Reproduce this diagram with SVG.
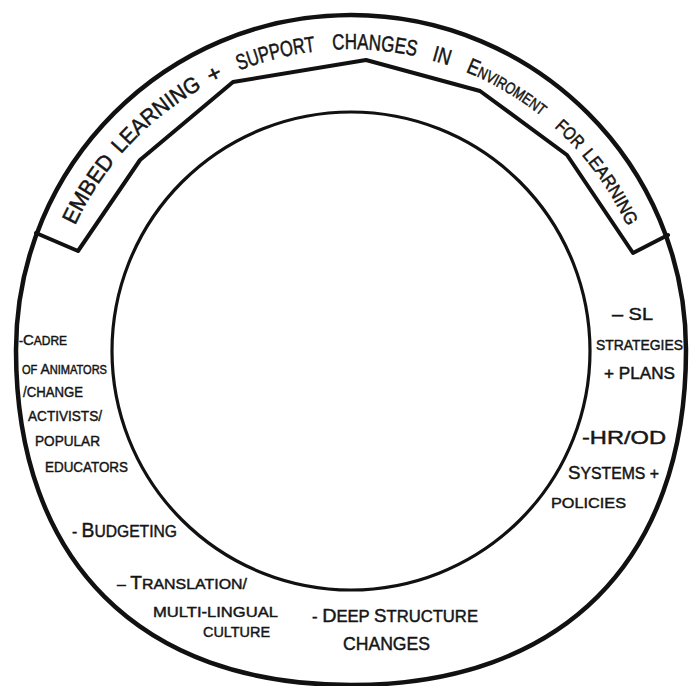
<svg xmlns="http://www.w3.org/2000/svg" width="698" height="686" viewBox="0 0 698 686">
<style>
.line{fill:none;stroke:#111;stroke-linejoin:round;stroke-linecap:round}
.t{font-family:"Liberation Sans","DejaVu Sans",sans-serif;fill:#151515;stroke:#151515;stroke-width:0.45}
.bt{font-family:"Liberation Sans","DejaVu Sans",sans-serif;fill:#151515;stroke:#151515;stroke-width:0.5;font-size:22px}
</style>
<defs>
<path id="arc" d="M 62 259 A 304 304 0 0 1 640 259"/>
</defs>
<rect width="698" height="686" fill="#fff"/>
<g id="outer-ring">
<path class="line" stroke-width="4.5" d="M 686 350 C 686 561 562 685 351 685 C 140 685 16 561 16 350 C 16 165 166 15 351 15 C 536 15 686 165 686 350 Z"/>
</g>
<g id="inner-circle">
<circle class="line" stroke-width="3.2" cx="351" cy="351" r="239"/>
</g>
<g id="band">
<path class="line" stroke-width="4" d="M 36 233 L 78 251 L 140 160 L 233 82 L 366 60 L 480 91 L 567 155 L 633 253 L 668 235"/>
</g>
<g id="band-label">
<text class="bt"><textPath href="#arc" startOffset="36" textLength="76" lengthAdjust="spacingAndGlyphs">EMBED</textPath></text>
<text class="bt"><textPath href="#arc" startOffset="121" textLength="105" lengthAdjust="spacingAndGlyphs">LEARNING</textPath></text>
<text class="bt"><textPath href="#arc" startOffset="236" textLength="14" lengthAdjust="spacingAndGlyphs">+</textPath></text>
<text class="bt"><textPath href="#arc" startOffset="267" textLength="79" lengthAdjust="spacingAndGlyphs">SUPPORT</textPath></text>
<text class="bt"><textPath href="#arc" startOffset="363" textLength="84" lengthAdjust="spacingAndGlyphs">CHANGES</textPath></text>
<text class="bt"><textPath href="#arc" startOffset="463" textLength="18" lengthAdjust="spacingAndGlyphs">IN</textPath></text>
<text class="bt"><textPath href="#arc" startOffset="499" textLength="88" lengthAdjust="spacingAndGlyphs">E<tspan font-size="16">NVIROMENT</tspan></textPath></text>
<text class="bt"><textPath href="#arc" startOffset="604" textLength="32" lengthAdjust="spacingAndGlyphs"><tspan font-size="18">FOR</tspan></textPath></text>
<text class="bt"><textPath href="#arc" startOffset="643" textLength="85" lengthAdjust="spacingAndGlyphs"><tspan font-size="18">LEARNING</tspan></textPath></text>
</g>
<g id="cadre">
<text class="t" x="19" y="345" font-size="12" textLength="48" lengthAdjust="spacingAndGlyphs">-<tspan font-size="15">C</tspan>ADRE</text>
<text class="t" x="22" y="374" font-size="12" textLength="85" lengthAdjust="spacingAndGlyphs">OF <tspan font-size="15">A</tspan>NIMATORS</text>
<text class="t" x="23" y="397" font-size="15" textLength="60" lengthAdjust="spacingAndGlyphs">/CHANGE</text>
<text class="t" x="28" y="421" font-size="15" textLength="74" lengthAdjust="spacingAndGlyphs">ACTIVISTS/</text>
<text class="t" x="35" y="446" font-size="15" textLength="65" lengthAdjust="spacingAndGlyphs">POPULAR</text>
<text class="t" x="45" y="472" font-size="15" textLength="83" lengthAdjust="spacingAndGlyphs">EDUCATORS</text>
</g>
<g id="budgeting">
<text class="t" x="72" y="537" font-size="17" textLength="105" lengthAdjust="spacingAndGlyphs">- <tspan font-size="21">B</tspan>UDGETING</text>
</g>
<g id="translation">
<text class="t" x="117" y="589" font-size="15" textLength="130" lengthAdjust="spacingAndGlyphs">– <tspan font-size="18">T</tspan>RANSLATION/</text>
<text class="t" x="153" y="617" font-size="15" textLength="125" lengthAdjust="spacingAndGlyphs">MULTI-LINGUAL</text>
<text class="t" x="203" y="637" font-size="15" textLength="67" lengthAdjust="spacingAndGlyphs">CULTURE</text>
</g>
<g id="deep-structure">
<text class="t" x="312" y="622" font-size="16" textLength="166" lengthAdjust="spacingAndGlyphs">- <tspan font-size="19">D</tspan>EEP <tspan font-size="18">S</tspan>TRUCTURE</text>
<text class="t" x="343" y="650" font-size="18" textLength="87" lengthAdjust="spacingAndGlyphs">CHANGES</text>
</g>
<g id="sl-strategies">
<text class="t" x="612" y="320" font-size="17" textLength="41" lengthAdjust="spacingAndGlyphs">– SL</text>
<text class="t" x="596" y="350" font-size="15" textLength="87" lengthAdjust="spacingAndGlyphs">STRATEGIES</text>
<text class="t" x="604" y="379" font-size="16" textLength="71" lengthAdjust="spacingAndGlyphs">+ PLANS</text>
</g>
<g id="hr-od">
<text class="t" x="582" y="444" font-size="18" textLength="84" lengthAdjust="spacingAndGlyphs">-HR/OD</text>
<text class="t" x="568" y="479" font-size="16" textLength="91" lengthAdjust="spacingAndGlyphs"><tspan font-size="19">S</tspan>YSTEMS +</text>
<text class="t" x="551" y="508" font-size="15" textLength="75" lengthAdjust="spacingAndGlyphs">POLICIES</text>
</g>
</svg>
